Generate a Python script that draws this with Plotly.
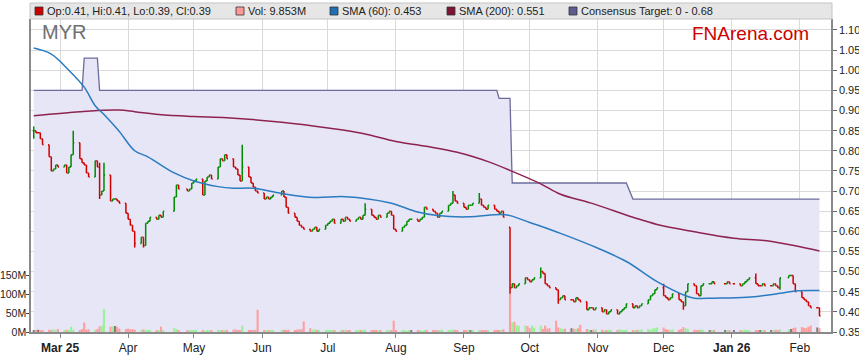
import pandas as pd
import plotly.graph_objects as go

# ---------------- DATA ----------------
holidays = ['2025-04-18', '2025-04-21', '2025-04-25', '2025-06-09',
            '2025-12-25', '2025-12-26', '2026-01-01', '2026-01-26']

close_feb25 = [0.85, 0.845, 0.845, 0.83, 0.815, 0.785, 0.75, 0.755, 0.765, 0.76]
close_mar25 = [0.765, 0.745, 0.76, 0.79, 0.82, 0.78, 0.77, 0.765, 0.745, 0.735, 0.775,
               0.76, 0.69, 0.70, 0.74, 0.675, 0.68, 0.68, 0.675, 0.67, 0.645]
close_apr25 = [0.63, 0.615, 0.60, 0.57, 0.585, 0.565, 0.62, 0.625, 0.635, 0.63, 0.64,
               0.635, 0.65, 0.685, 0.715, 0.705, 0.70, 0.705, 0.72]
close_may25 = [0.725, 0.73, 0.69, 0.725, 0.735, 0.74, 0.73, 0.76, 0.78, 0.775, 0.79,
               0.78, 0.76, 0.755, 0.74, 0.725, 0.76, 0.735, 0.72, 0.71, 0.70, 0.695]
close_jun25 = [0.68, 0.685, 0.68, 0.685, 0.69, 0.70, 0.685, 0.66, 0.645, 0.635, 0.625,
               0.615, 0.61, 0.605, 0.60, 0.605, 0.61, 0.60, 0.605, 0.615]
close_jul25 = [0.62, 0.625, 0.63, 0.62, 0.63, 0.625, 0.635, 0.63, 0.625, 0.63, 0.635,
               0.63, 0.64, 0.655, 0.64, 0.635, 0.63, 0.64, 0.635, 0.645, 0.65, 0.64, 0.605]
close_aug25 = [0.60, 0.61, 0.615, 0.625, 0.63, 0.63, 0.625, 0.63, 0.635, 0.66, 0.655,
               0.65, 0.645, 0.635, 0.645, 0.65, 0.665, 0.67, 0.69, 0.675, 0.67]
close_sep25 = [0.66, 0.655, 0.665, 0.665, 0.67, 0.68, 0.665, 0.66, 0.655, 0.665, 0.655,
               0.65, 0.645, 0.65, 0.635, 0.46, 0.47, 0.46, 0.465, 0.47, 0.485, 0.48]
close_oct25 = [0.475, 0.48, 0.485, 0.50, 0.495, 0.47, 0.465, 0.46, 0.455, 0.43, 0.435,
               0.44, 0.43, 0.43, 0.425, 0.435, 0.43, 0.425, 0.405, 0.41, 0.41, 0.405, 0.41]
close_nov25 = [0.40, 0.405, 0.395, 0.40, 0.405, 0.395, 0.40, 0.405, 0.41, 0.42, 0.41,
               0.415, 0.41, 0.415, 0.42, 0.43, 0.44, 0.445, 0.455, 0.46]
close_dec25 = [0.44, 0.435, 0.43, 0.435, 0.445, 0.43, 0.425, 0.415, 0.45, 0.47, 0.465,
               0.445, 0.44, 0.465, 0.47, 0.47, 0.475, 0.47, 0.47, 0.475, 0.47]
close_jan26 = [0.47, 0.465, 0.47, 0.475, 0.48, 0.485, 0.47, 0.465, 0.465, 0.47, 0.465,
               0.465, 0.47, 0.465, 0.46, 0.485, 0.49, 0.49, 0.47, 0.45]
close_feb26 = [0.435, 0.43, 0.425, 0.415, 0.41, 0.41, 0.39]

# bars whose open / high / low stand out in the picture
bar_overrides = {
    '2025-02-17': {'open': 0.85, 'high': 0.86, 'low': 0.83},
    '2025-03-07': {'high': 0.85},
    '2025-03-19': {'high': 0.77, 'low': 0.68},
    '2025-03-21': {'high': 0.77},
    '2025-04-04': {'low': 0.56},
    '2025-04-08': {'low': 0.56},
    '2025-05-23': {'high': 0.815},
    '2025-07-18': {'high': 0.67},
    '2025-08-27': {'high': 0.70},
    '2025-09-08': {'high': 0.695},
    '2025-09-22': {'open': 0.61, 'high': 0.61, 'low': 0.445},
    '2025-10-06': {'high': 0.51},
    '2025-10-14': {'high': 0.455, 'low': 0.42},
    '2025-12-01': {'high': 0.47},
    '2025-12-10': {'low': 0.405},
    '2026-01-12': {'high': 0.495},
    '2026-01-23': {'low': 0.455},
    '2026-02-10': {'open': 0.41, 'high': 0.41, 'low': 0.39},
}

vol_feb25 = [5, 4, 6, 4, 5, 6, 4, 7, 5, 8]
vol_mar25 = [5, 6, 5, 14, 6, 5, 8, 25, 6, 7, 6, 8, 15, 17, 61, 14, 15, 16, 14, 9, 8]
vol_apr25 = [9, 7, 8, 6, 5, 7, 6, 4, 3, 4, 5, 14, 4, 10, 8, 5, 3, 4, 3]
vol_may25 = [3, 3, 4, 2, 3, 3, 4, 5, 5, 4, 3, 4, 6, 7, 5, 4, 17, 5, 4, 5, 6, 59]
vol_jun25 = [5, 4, 3, 3, 4, 5, 6, 4, 6, 5, 6, 7, 8, 28, 10, 6, 7, 5, 5, 4]
vol_jul25 = [6, 5, 4, 3, 5, 4, 6, 5, 4, 5, 3, 4, 5, 6, 3, 4, 5, 4, 3, 4, 5, 4, 30]
vol_aug25 = [5, 4, 3, 2, 4, 3, 3, 4, 2, 3, 5, 4, 4, 3, 5, 6, 4, 5, 7, 4, 5]
vol_sep25 = [4, 3, 5, 4, 3, 4, 5, 3, 4, 5, 4, 3, 5, 4, 7, 101, 26, 27, 17, 17, 17, 16]
vol_oct25 = [10, 17, 12, 17, 8, 17, 9, 10, 30, 12, 10, 8, 9, 10, 9, 8, 10, 19, 8, 6, 5, 6, 7]
vol_nov25 = [6, 5, 4, 6, 5, 4, 7, 5, 4, 6, 5, 4, 6, 5, 7, 8, 6, 9, 10, 12]
vol_dec25 = [12, 8, 6, 5, 7, 6, 8, 13, 10, 9, 6, 5, 4, 7, 5, 4, 3, 3, 4, 3, 3]
vol_jan26 = [3, 4, 5, 6, 5, 4, 4, 3, 5, 4, 3, 4, 5, 6, 5, 7, 6, 8, 10, 12]
vol_feb26 = [13, 11, 10, 14, 17, 12, 9.853]

sma60_dates = ['2025-02-17', '2025-02-25', '2025-03-05', '2025-03-12', '2025-03-17',
               '2025-03-21', '2025-03-28', '2025-04-04', '2025-04-10', '2025-04-22',
               '2025-05-01', '2025-05-12', '2025-05-19', '2025-05-28', '2025-06-10',
               '2025-06-25', '2025-07-09', '2025-07-29', '2025-08-11', '2025-08-20',
               '2025-09-03', '2025-09-18', '2025-09-22', '2025-10-01', '2025-10-15',
               '2025-10-29', '2025-11-14', '2025-11-28', '2025-12-11', '2025-12-15',
               '2025-12-24', '2026-01-08', '2026-01-23', '2026-01-30', '2026-02-10']
sma60_vals = [1.055, 1.04, 1.00, 0.958, 0.912, 0.89, 0.848, 0.80, 0.785, 0.745,
              0.725, 0.711, 0.707, 0.707, 0.694, 0.684, 0.686, 0.671, 0.648, 0.639,
              0.636, 0.642, 0.639, 0.622, 0.595, 0.565, 0.525, 0.475, 0.44, 0.434,
              0.434, 0.436, 0.446, 0.452, 0.453]

sma200_dates = ['2025-02-17', '2025-03-10', '2025-03-18', '2025-03-28', '2025-04-04',
                '2025-04-15', '2025-05-01', '2025-05-16', '2025-06-10', '2025-07-02',
                '2025-07-17', '2025-08-01', '2025-08-15', '2025-09-01', '2025-09-12',
                '2025-09-23', '2025-10-06', '2025-10-15', '2025-10-29', '2025-11-17',
                '2025-11-28', '2025-12-15', '2026-01-02', '2026-01-16', '2026-01-30',
                '2026-02-10']
sma200_vals = [0.887, 0.897, 0.90, 0.901, 0.897, 0.89, 0.885, 0.882, 0.871, 0.856,
               0.843, 0.823, 0.811, 0.792, 0.773, 0.749, 0.718, 0.692, 0.67, 0.635,
               0.617, 0.599, 0.583, 0.577, 0.564, 0.551]

target_dates = ['2025-02-17', '2025-03-11', '2025-03-12', '2025-03-18', '2025-03-19',
                '2025-09-16', '2025-09-17', '2025-09-22', '2025-09-23', '2025-11-14',
                '2025-11-17', '2026-02-10']
target_vals = [0.95, 0.95, 1.03, 1.03, 0.95, 0.95, 0.93, 0.93, 0.72, 0.72, 0.68, 0.68]

month_ticks = ['2025-03-01', '2025-04-01', '2025-05-01', '2025-06-01', '2025-07-01',
               '2025-08-01', '2025-09-01', '2025-10-01', '2025-11-01', '2025-12-01',
               '2026-01-01', '2026-02-01']
month_labels = ['<b>Mar 25</b>', 'Apr', 'May', 'Jun', 'Jul', 'Aug', 'Sep', 'Oct',
                'Nov', 'Dec', '<b>Jan 26</b>', 'Feb']

vol_tickvals = [0, 50e6, 100e6, 150e6]
vol_ticktext = ['0M', '50M', '100M', '150M']

legend_items = [
    ('#CC0000', 'Op:0.41, Hi:0.41, Lo:0.39, Cl:0.39', 35),
    ('#FF9999', 'Vol: 9.853M', 236),
    ('#1F6FB5', 'SMA (60): 0.453', 330),
    ('#7D1535', 'SMA (200): 0.551', 447),
    ('#5C5C8E', 'Consensus Target: 0 - 0.68', 569),
]

# ---------------- BUILD ----------------
dates_all = [d for d in pd.bdate_range('2025-02-17', '2026-02-10')
             if d.strftime('%Y-%m-%d') not in holidays]
closes = (close_feb25 + close_mar25 + close_apr25 + close_may25 + close_jun25 +
          close_jul25 + close_aug25 + close_sep25 + close_oct25 + close_nov25 +
          close_dec25 + close_jan26 + close_feb26)
vols = (vol_feb25 + vol_mar25 + vol_apr25 + vol_may25 + vol_jun25 + vol_jul25 +
        vol_aug25 + vol_sep25 + vol_oct25 + vol_nov25 + vol_dec25 + vol_jan26 + vol_feb26)
n = min(len(dates_all), len(closes), len(vols))
dates = [d.strftime('%Y-%m-%d') for d in dates_all[:n]]
closes = closes[:n]
vols = [v * 1e6 for v in vols[:n]]

opens, highs, lows = [], [], []
for i, d in enumerate(dates):
    o = closes[i - 1] if i > 0 else closes[0]
    ov = bar_overrides.get(d, {})
    o = ov.get('open', o)
    c = closes[i]
    opens.append(o)
    highs.append(ov.get('high', max(o, c)))
    lows.append(ov.get('low', min(o, c)))

vol_colors = []
for i in range(n):
    prev = closes[i - 1] if i > 0 else closes[0]
    if closes[i] > prev:
        vol_colors.append('#9CF09C')
    elif closes[i] < prev:
        vol_colors.append('#FF9E9E')
    else:
        vol_colors.append('#7F7F7F')

# layout geometry (pixels)
W, H = 859, 363
ML, MR, MT, MB = 31, 28, 19, 31
PW, PH = W - ML - MR, H - MT - MB
PX_PER_PRICE = 402.7
PX_PER_MVOL = 0.377
price_range = [0.35, 0.35 + PH / PX_PER_PRICE]
vol_range = [0, PH / PX_PER_MVOL * 1e6]


def px_x(x):
    return (x - ML) / PW


def px_y(y):
    return (H - MB - y) / PH


fig = go.Figure()

fig.add_trace(go.Scatter(
    x=target_dates, y=target_vals, mode='lines', fill='tozeroy',
    fillcolor='#E6E6F6', line=dict(color='#6C6C9C', width=1.3),
    xaxis='x', yaxis='y', hoverinfo='skip', showlegend=False))

fig.add_trace(go.Bar(
    x=dates, y=vols, marker=dict(color=vol_colors, line=dict(width=0)),
    width=0.95 * 86400000, xaxis='x', yaxis='y2', hoverinfo='skip',
    showlegend=False))

fig.add_trace(go.Scatter(
    x=sma200_dates, y=sma200_vals, mode='lines', line=dict(color='#8E2350', width=1.5),
    line_shape='spline', xaxis='x', yaxis='y3', hoverinfo='skip', showlegend=False))
fig.add_trace(go.Scatter(
    x=sma60_dates, y=sma60_vals, mode='lines', line=dict(color='#2B7BC0', width=1.5),
    line_shape='spline', xaxis='x', yaxis='y3', hoverinfo='skip', showlegend=False))

fig.add_trace(go.Ohlc(
    x=dates, open=opens, high=highs, low=lows, close=closes,
    increasing=dict(line=dict(color='#008A00', width=1.5)),
    decreasing=dict(line=dict(color='#D00000', width=1.5)),
    tickwidth=0.5, xaxis='x', yaxis='y3', hoverinfo='skip', showlegend=False))

shapes = [dict(type='rect', xref='paper', yref='paper',
               x0=px_x(30), x1=px_x(832), y0=px_y(19), y1=px_y(3),
               fillcolor='#E6E6E6', line=dict(color='#C4C4C4', width=1), layer='above')]
annotations = []
for col, txt, sx in legend_items:
    shapes.append(dict(type='rect', xref='paper', yref='paper',
                       x0=px_x(sx), x1=px_x(sx + 8), y0=px_y(15), y1=px_y(7),
                       fillcolor=col, line=dict(color='#333333', width=0.8), layer='above'))
    annotations.append(dict(text=txt, xref='paper', yref='paper', x=px_x(sx + 10),
                            y=px_y(11), xanchor='left', yanchor='middle', showarrow=False,
                            font=dict(family='Liberation Sans, Arial', size=11, color='#222222')))

annotations.append(dict(text='MYR', xref='paper', yref='paper', x=px_x(40), y=px_y(32),
                        xanchor='left', yanchor='middle', showarrow=False,
                        font=dict(family='Liberation Sans, Arial', size=20, color='#707070')))
annotations.append(dict(text='FNArena.com', xref='paper', yref='paper', x=px_x(750),
                        y=px_y(33), xanchor='center', yanchor='middle', showarrow=False,
                        font=dict(family='Liberation Sans, Arial', size=19, color='#CC0000')))

x_font = dict(family='Liberation Sans, Arial', size=12, color='#222222')
y_font = dict(family='Liberation Sans, Arial', size=11, color='#222222')
v_font = dict(family='Liberation Sans, Arial', size=10.5, color='#222222')

fig.update_layout(
    width=W, height=H,
    margin=dict(l=ML, r=MR, t=MT, b=MB, pad=0, autoexpand=False),
    paper_bgcolor='white', plot_bgcolor='white',
    showlegend=False,
    shapes=shapes, annotations=annotations,
    xaxis=dict(type='date', range=['2025-02-15 18:00', '2026-02-15 06:00'],
               tickvals=month_ticks, ticktext=month_labels, tickfont=x_font,
               showgrid=True, gridcolor='#DADADA', gridwidth=1,
               ticks='outside', ticklen=4, tickcolor='#888888',
               showline=True, linecolor='#8A8A8A', linewidth=1.5, automargin=False,
               rangeslider=dict(visible=False), zeroline=False, fixedrange=True),
    yaxis=dict(range=price_range, side='right', dtick=0.05, tick0=0.35,
               tickformat='.2f', tickfont=y_font, showgrid=True, automargin=False,
               gridcolor='#DADADA', gridwidth=1, ticks='outside', ticklen=4,
               tickcolor='#666666', showline=True, linecolor='#8A8A8A',
               linewidth=1.5, zeroline=False, fixedrange=True),
    yaxis2=dict(range=vol_range, overlaying='y', side='left', tickvals=vol_tickvals,
                ticktext=vol_ticktext, tickfont=v_font, showgrid=False, automargin=False,
                ticks='outside', ticklen=3, tickcolor='#444444', showline=True,
                ticklabelstandoff=-2,
                linecolor='#8A8A8A', linewidth=1.5, zeroline=False, fixedrange=True),
    yaxis3=dict(range=price_range, overlaying='y', visible=False, showgrid=False,
                zeroline=False, fixedrange=True),
)

fig.write_html('out.html', config={'displayModeBar': False},
               post_script="document.body.style.margin='0';document.body.style.overflow='hidden';")
